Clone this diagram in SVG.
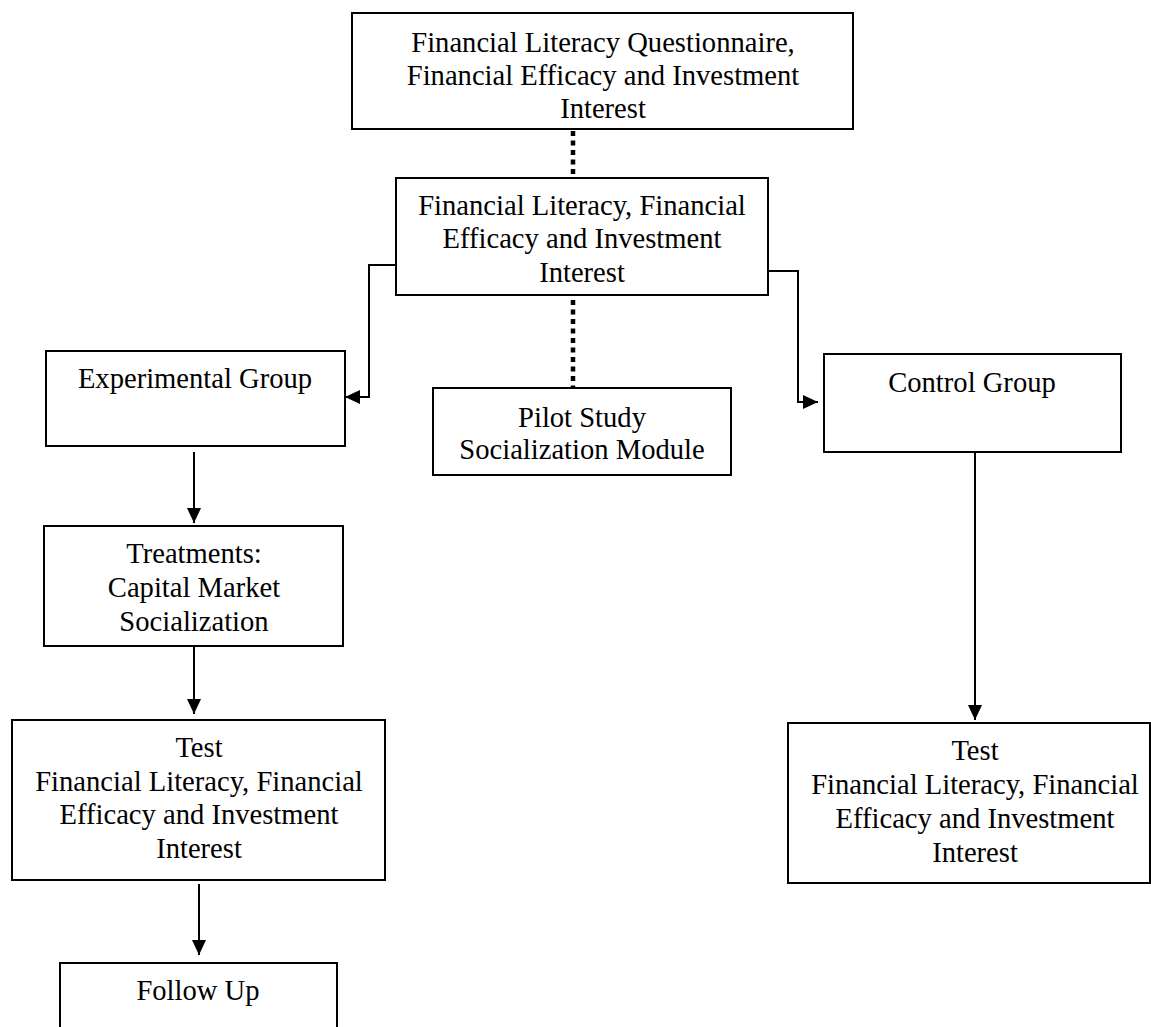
<svg xmlns="http://www.w3.org/2000/svg" width="1151" height="1027" viewBox="0 0 1151 1027">
<style>
  .box { fill: #ffffff; stroke: #000000; stroke-width: 2; }
  .lbl { font-family: "Liberation Serif", "Times New Roman", serif; font-size: 28.6px; fill: #000000; text-anchor: middle; }
  .conn { fill: none; stroke: #000000; stroke-width: 2; }
  .dot { fill: none; stroke: #000000; stroke-width: 4.5; stroke-dasharray: 5 4.5; }
</style>
<defs>
  <marker id="arrow" markerUnits="userSpaceOnUse" markerWidth="16" markerHeight="16" viewBox="0 0 16 16" refX="15" refY="8" orient="auto">
    <path d="M0,1 L15,8 L0,15 Z" fill="#000000"/>
  </marker>
</defs>
<rect width="1151" height="1027" fill="#ffffff"/>

<g id="connectors">
  <line class="dot" x1="573" y1="131" x2="573" y2="177"/>
  <line class="dot" x1="573" y1="300" x2="573" y2="388"/>
  <path class="conn" d="M396,265 H369 V397 H345" marker-end="url(#arrow)"/>
  <path class="conn" d="M768,271 H798 V402 H818" marker-end="url(#arrow)"/>
  <path class="conn" d="M194,452 V523" marker-end="url(#arrow)"/>
  <path class="conn" d="M194,646 V714" marker-end="url(#arrow)"/>
  <path class="conn" d="M199,884 V955" marker-end="url(#arrow)"/>
  <path class="conn" d="M975,453 V720" marker-end="url(#arrow)"/>
</g>

<g id="questionnaire">
  <rect class="box" x="352" y="13" width="501" height="116"/>
  <text class="lbl" x="603" y="52">Financial Literacy Questionnaire,</text>
  <text class="lbl" x="603" y="85">Financial Efficacy and Investment</text>
  <text class="lbl" x="603" y="118">Interest</text>
</g>

<g id="pretest">
  <rect class="box" x="396" y="178" width="372" height="117"/>
  <text class="lbl" x="582" y="215">Financial Literacy, Financial</text>
  <text class="lbl" x="582" y="248">Efficacy and Investment</text>
  <text class="lbl" x="582" y="282">Interest</text>
</g>

<g id="experimental">
  <rect class="box" x="46" y="351" width="299" height="95"/>
  <text class="lbl" x="195" y="388">Experimental Group</text>
</g>

<g id="pilot">
  <rect class="box" x="433" y="388" width="298" height="87"/>
  <text class="lbl" x="582" y="427">Pilot Study</text>
  <text class="lbl" x="582" y="459">Socialization Module</text>
</g>

<g id="control">
  <rect class="box" x="824" y="354" width="297" height="98"/>
  <text class="lbl" x="972" y="392">Control Group</text>
</g>

<g id="treatments">
  <rect class="box" x="44" y="526" width="299" height="120"/>
  <text class="lbl" x="194" y="563">Treatments:</text>
  <text class="lbl" x="194" y="597">Capital Market</text>
  <text class="lbl" x="194" y="631">Socialization</text>
</g>

<g id="test-experimental">
  <rect class="box" x="12" y="720" width="373" height="160"/>
  <text class="lbl" x="199" y="757">Test</text>
  <text class="lbl" x="199" y="791">Financial Literacy, Financial</text>
  <text class="lbl" x="199" y="824">Efficacy and Investment</text>
  <text class="lbl" x="199" y="858">Interest</text>
</g>

<g id="test-control">
  <rect class="box" x="788" y="723" width="362" height="160"/>
  <text class="lbl" x="975" y="760">Test</text>
  <text class="lbl" x="975" y="794">Financial Literacy, Financial</text>
  <text class="lbl" x="975" y="828">Efficacy and Investment</text>
  <text class="lbl" x="975" y="862">Interest</text>
</g>

<g id="follow-up">
  <path class="box" d="M60,1030 V963 H337 V1030"/>
  <text class="lbl" x="198" y="1000">Follow Up</text>
</g>
</svg>
